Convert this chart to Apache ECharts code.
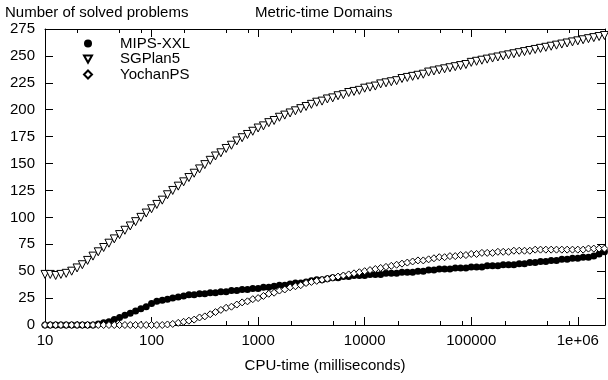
<!DOCTYPE html>
<html>
<head>
<meta charset="utf-8">
<script src="https://cdn.jsdelivr.net/npm/echarts@6/dist/echarts.min.js"></script>
<style>html,body{margin:0;padding:0;background:#fff}#c{width:608px;height:380px}</style>
</head>
<body>
<div id="c"></div>
<script>
// CPU time samples (ms)
const cpuTime = [
  10, 11.2, 12.6, 14.1, 15.8, 17.8, 20, 22.4, 25.1, 28.2, 31.6, 35.5, 39.8, 44.7, 50.1, 56.2, 63.1, 70.8, 79.4, 89.1,
  100, 112, 126, 141, 158, 178, 200, 224, 251, 282, 316, 355, 398, 447, 501, 562, 631, 708, 794, 891,
  1000, 1122, 1259, 1413, 1585, 1778, 1995, 2239, 2512, 2818, 3162, 3548, 3981, 4467, 5012, 5623, 6310, 7079, 7943, 8913,
  10000, 11220, 12589, 14125, 15849, 17783, 19953, 22387, 25119, 28184, 31623, 35481, 39811, 44668, 50119, 56234, 63096, 70795, 79433, 89125,
  100000, 112202, 125893, 141254, 158489, 177828, 199526, 223872, 251189, 281838, 316228, 354813, 398107, 446684, 501187, 562341, 630957, 707946, 794328, 891251,
  1000000, 1122018, 1258925, 1412538, 1584893, 1778279
];
const mipsXXL = [
  0, 0, 0, 0, 0, 0, 0, 0, 0, 0, 1, 2, 3, 5, 7, 9, 11, 13, 15, 17,
  20, 22, 23, 24, 25, 26, 27, 28, 28, 29, 29, 30, 30, 31, 31, 32, 32, 33, 33, 34,
  34, 35, 35, 36, 37, 37, 38, 39, 39, 40, 41, 42, 42, 43, 44, 44, 45, 45, 46, 46,
  46, 47, 47, 47, 48, 48, 48, 49, 49, 49, 50, 50, 51, 51, 52, 52, 52, 53, 53, 53,
  54, 54, 54, 55, 55, 55, 56, 56, 56, 57, 57, 58, 58, 59, 59, 60, 60, 61, 61, 62,
  62, 63, 63, 64, 66, 68
];
const sgplan5 = [
  47, 47, 46, 47, 48, 50, 53, 56, 60, 64, 68, 72, 76, 80, 84, 88, 92, 96, 100, 104,
  108, 112, 116, 121, 125, 129, 133, 137, 141, 145, 149, 153, 157, 160, 164, 167, 171, 174, 177, 180,
  183, 185, 188, 190, 193, 195, 197, 199, 201, 203, 205, 207, 208, 210, 211, 213, 214, 216, 217, 218,
  220, 221, 222, 224, 225, 226, 227, 229, 230, 231, 232, 233, 235, 236, 237, 238, 239, 240, 241, 242,
  244, 245, 246, 247, 248, 249, 250, 251, 252, 253, 254, 255, 256, 257, 258, 259, 260, 261, 262, 263,
  264, 265, 266, 267, 268, 269
];
const yochanPS = [
  0, 0, 0, 0, 0, 0, 0, 0, 0, 0, 0, 0, 0, 0, 0, 0, 0, 0, 0, 0,
  0, 0, 0, 0.5, 1, 2, 3, 4, 5, 7, 8, 10, 12, 14, 16, 17, 19, 21, 22, 24,
  25, 27, 29, 30, 32, 33, 35, 36, 37, 39, 40, 41, 42, 43, 44, 45, 46, 47, 48, 49,
  50, 51, 52, 53, 54, 55, 56, 57, 58, 59, 60, 60, 61, 62, 63, 63, 64, 64, 65, 65,
  66, 66, 67, 67, 67, 68, 68, 68, 69, 69, 69, 69, 70, 70, 70, 70, 70, 70, 70, 70,
  70, 70, 71, 71, 71, 71
];
const seriesNames = ['MIPS-XXL', 'SGPlan5', 'YochanPS'];
const xTickValues = [10, 100, 1000, 10000, 100000, 1000000];
const xTickLabels = ['10', '100', '1000', '10000', '100000', '1e+06'];
const xMinorTicks = [20, 50, 80, 200, 500, 800, 2000, 5000, 8000, 20000, 50000, 80000, 200000, 500000, 800000];
const xMin = 10, xMax = 1800000;
const yMin = 0, yMax = 275, yStep = 25;

const FONT = 'Liberation Sans, Arial, Helvetica, sans-serif';
const pairs = arr => cpuTime.map((x, i) => [x, arr[i]]);
// minor-tick decoration axis works in exponent space (log10 of ms)
const minorTickExp = xMinorTicks.map(v => Math.log10(v));
const expMin = Math.log10(xMin), expMax = Math.log10(xMax);

function xLabel(v) {
  for (let i = 0; i < xTickValues.length; i++) {
    if (Math.abs(v / xTickValues[i] - 1) < 1e-6) return xTickLabels[i];
  }
  return '';
}

const chart = echarts.init(document.getElementById('c'), null, {renderer: 'canvas'});
const gridRect = {left: 45, right: 1, top: 29, bottom: 55};
const minorAxis = pos => ({
  type: 'value', gridIndex: 1, position: pos, min: expMin, max: expMax,
  axisLine: {show: false, onZero: false},
  axisTick: {show: true, inside: true, length: 4, customValues: minorTickExp, lineStyle: {color: '#000'}},
  axisLabel: {show: false}, splitLine: {show: false}
});
const option = {
  animation: false,
  backgroundColor: '#fff',
  textStyle: {fontFamily: FONT},
  grid: [Object.assign({}, gridRect), Object.assign({}, gridRect)],
  graphic: [
    {type: 'text', left: 5, top: 5, style: {text: 'Number of solved problems', font: '15px ' + FONT, fill: '#000'}},
    {type: 'text', left: 255, top: 5, style: {text: 'Metric-time Domains', font: '15px ' + FONT, fill: '#000'}}
  ],
  legend: {
    orient: 'vertical',
    left: 78,
    top: 31,
    itemWidth: 8,
    itemHeight: 8,
    itemGap: 0.5,
    textStyle: {fontSize: 15, color: '#000', fontFamily: FONT, lineHeight: 15, padding: [0, 0, 0, 23]},
    data: [
      {name: seriesNames[0], icon: 'circle'},
      {name: seriesNames[1], icon: 'path://M0,0L10,0L5,9Z'},
      {name: seriesNames[2], icon: 'diamond'}
    ]
  },
  xAxis: [
    {
      type: 'log', logBase: 10, gridIndex: 0, position: 'bottom', min: xMin, max: xMax, splitNumber: 6,
      axisLine: {show: true, onZero: false, lineStyle: {color: '#000', width: 1}},
      axisTick: {show: true, inside: true, length: 8, lineStyle: {color: '#000'}},
      axisLabel: {show: true, fontSize: 15, color: '#000', margin: 8, fontFamily: FONT, formatter: xLabel},
      splitLine: {show: false},
      name: 'CPU-time (milliseconds)', nameLocation: 'middle', nameGap: 33,
      nameTextStyle: {fontSize: 15, color: '#000', fontFamily: FONT}
    },
    {
      type: 'log', logBase: 10, gridIndex: 0, position: 'top', min: xMin, max: xMax, splitNumber: 6,
      axisLine: {show: true, onZero: false, lineStyle: {color: '#000', width: 1}},
      axisTick: {show: true, inside: true, length: 8, lineStyle: {color: '#000'}},
      axisLabel: {show: false}, splitLine: {show: false}
    },
    minorAxis('bottom'),
    minorAxis('top')
  ],
  yAxis: [
    {
      type: 'value', gridIndex: 0, position: 'left', min: yMin, max: yMax, interval: yStep,
      axisLine: {show: true, onZero: false, lineStyle: {color: '#000', width: 1}},
      axisTick: {show: true, inside: true, length: 8, lineStyle: {color: '#000'}},
      axisLabel: {show: true, fontSize: 15, color: '#000', margin: 10, fontFamily: FONT},
      splitLine: {show: false}
    },
    {
      type: 'value', gridIndex: 0, position: 'right', min: yMin, max: yMax, interval: yStep,
      axisLine: {show: true, onZero: false, lineStyle: {color: '#000', width: 1}},
      axisTick: {show: true, inside: true, length: 8, lineStyle: {color: '#000'}},
      axisLabel: {show: false}, splitLine: {show: false}
    },
    {type: 'value', gridIndex: 1, min: yMin, max: yMax, show: false}
  ],
  series: [
    {
      name: seriesNames[0], type: 'scatter', xAxisIndex: 0, yAxisIndex: 0,
      symbol: 'circle', symbolSize: 7, clip: false,
      itemStyle: {color: '#000', opacity: 1},
      data: pairs(mipsXXL)
    },
    {
      name: seriesNames[1], type: 'scatter', xAxisIndex: 0, yAxisIndex: 0,
      symbol: 'triangle', symbolRotate: 180, symbolSize: 8, clip: false,
      itemStyle: {color: '#fff', borderColor: '#000', borderWidth: 1, opacity: 1},
      data: pairs(sgplan5)
    },
    {
      name: seriesNames[2], type: 'scatter', xAxisIndex: 0, yAxisIndex: 0,
      symbol: 'diamond', symbolSize: 7, clip: false,
      itemStyle: {color: '#fff', borderColor: '#000', borderWidth: 1, opacity: 1},
      data: pairs(yochanPS)
    }
  ]
};
chart.setOption(option);
</script>
</body>
</html>
